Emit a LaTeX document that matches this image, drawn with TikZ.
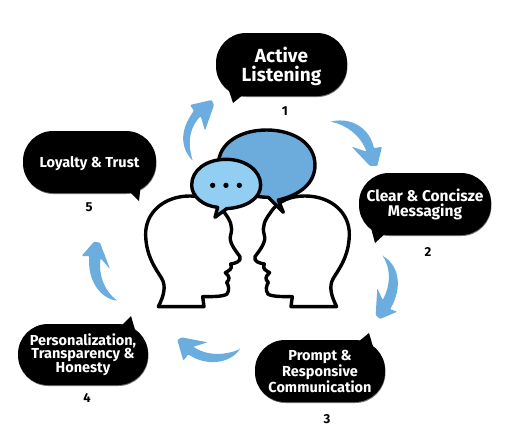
\documentclass[tikz,border=0pt]{standalone}
\usepackage{fontspec}
\setmainfont{Fira Sans}
\usetikzlibrary{shadows}
\definecolor{arrowblue}{HTML}{6BADDF}
\definecolor{bigblue}{HTML}{6BACDD}
\definecolor{smallblue}{HTML}{92CDF2}
\tikzset{
  bubblebox/.style={fill=black,rounded corners=30pt,inner sep=0pt,general shadow={fill=black!55,shadow xshift=0.4pt,shadow yshift=-1pt}},
  bubbletext/.style={inner sep=0pt,align=center,text=white,font=\bfseries\fontsize{14.5}{13.6}\selectfont},
  bubbletail/.style={fill=black},
  numlabel/.style={font=\bfseries\fontsize{13}{15}\selectfont,text=black,inner sep=0pt},
  curvearrow/.style={fill=arrowblue,rounded corners=1pt},
  headline/.style={draw=black,fill=white,line width=3.4pt,line join=round},
  speech/.style={draw=black,line width=3.4pt,line join=round},
  zoomA/.style={shift={(130,120)},x=0.3333pt,y=-0.3333pt},
  zoomB/.style={shift={(170,20)},x=0.3333pt,y=-0.3333pt},
  zoomC/.style={shift={(340,150)},x=0.3333pt,y=-0.3333pt},
  zoomD/.style={shift={(170,320)},x=0.3333pt,y=-0.3333pt},
  zoomE/.style={shift={(0,230)},x=0.3333pt,y=-0.3333pt},
}
\newcommand{\headoutline}{(85,560) -- (222,560) -- (218,530)
  .. controls (250,530) and (280,530) .. (291,522)
  .. controls (300,510) and (295,495) .. (290,487)
  .. controls (300,478) and (300,470) .. (286,458)
  .. controls (295,452) and (310,448) .. (302,432)
  .. controls (315,430) and (335,425) .. (330,410)
  .. controls (315,390) and (295,365) .. (302,345)
  .. controls (310,320) and (300,300) .. (285,280)
  .. controls (260,240) and (220,228) .. (180,228)
  .. controls (100,228) and (45,280) .. (47,345)
  .. controls (48,410) and (80,450) .. (95,475)
  .. controls (110,500) and (100,530) .. (85,560) -- cycle}
\begin{document}
\begin{tikzpicture}[x=1pt,y=-1pt]
\useasboundingbox (0,0) rectangle (512,440);
\fill[white] (0,0) rectangle (512,440);
% heads
\begin{scope}[zoomA]
  \draw[headline] \headoutline;
  \begin{scope}[shift={(705,0)},xscale=-1]
    \draw[headline] \headoutline;
  \end{scope}
  \draw[speech,fill=bigblue] (415,232) -- (460,277) -- (445,240)
    .. controls (510,225) and (555,190) .. (555,135)
    .. controls (555,70) and (490,30) .. (410,30)
    .. controls (330,30) and (265,70) .. (265,135)
    .. controls (265,185) and (340,232) .. (415,232) -- cycle;
  \draw[speech,fill=smallblue] (263,262) -- (255,292) -- (290,266)
    .. controls (350,262) and (392,235) .. (392,195)
    .. controls (392,150) and (345,118) .. (288,118)
    .. controls (230,118) and (185,150) .. (185,195)
    .. controls (185,230) and (220,258) .. (263,262) -- cycle;
  \fill[black] (248,196) circle[radius=8] (288,196) circle[radius=8] (328,196) circle[radius=8];
\end{scope}
% bubbles
\node[bubblebox,minimum width=131pt,minimum height=63pt] (b1) at (281.5,64.5) {};
\node[bubblebox,minimum width=132pt,minimum height=62pt] (b2) at (425,204) {};
\node[bubblebox,minimum width=130pt,minimum height=62pt] (b3) at (320,371) {};
\node[bubblebox,minimum width=130pt,minimum height=61pt] (b4) at (83,354.5) {};
\node[bubblebox,minimum width=133pt,minimum height=62pt] (b5) at (89.5,162) {};
\fill[bubbletail] (228,88) -- (233,103) -- (244,94) -- cycle;
\fill[bubbletail] (371,228) -- (375,243) -- (387,232) -- cycle;
\fill[bubbletail] (358,342) -- (369,333) -- (374,350) -- cycle;
\fill[bubbletail] (121,326) -- (131,316) -- (136,333) -- cycle;
\fill[bubbletail] (128,190) -- (139,201) -- (141,183) -- cycle;
% bubble texts
\node[bubbletext,font=\bfseries\fontsize{19}{19}\selectfont] (t1) at ([yshift=-1.5pt]b1.center) {Active\\Listening};
\node[bubbletext,font=\bfseries\fontsize{15.5}{15.4}\selectfont] (t2) at ([yshift=-0.5pt]b2.center) {Clear \& Concisze\\Messaging};
\node[bubbletext] (t3) at (b3.center) {Prompt \&\\Responsive\\Communication};
\node[bubbletext] (t4) at (b4.center) {Personalization,\\Transparency \&\\Honesty};
\node[bubbletext] (t5) at ([yshift=-1.5pt]b5.center) {Loyalty \& Trust};
% numbers
\node[numlabel] (n1) at (285,111) {1};
\node[numlabel] (n2) at (428,252) {2};
\node[numlabel] (n3) at (327,419) {3};
\node[numlabel] (n4) at (87,398) {4};
\node[numlabel] (n5) at (89,207) {5};
% arrows
\begin{scope}[zoomB]
  \fill[curvearrow] (68,422) .. controls (30,380) and (30,330) .. (72,272) -- (60,255) -- (125,240) -- (132,255) -- (105,332) -- (92,288) .. controls (62,320) and (50,360) .. (68,422) -- cycle;
  \fill[curvearrow] (482,305) .. controls (550,290) and (600,330) .. (612,385) -- (636,380) -- (622,438) -- (600,438) -- (545,380) -- (590,395) .. controls (570,345) and (530,315) .. (482,305) -- cycle;
\end{scope}
\begin{scope}[zoomC]
  \fill[curvearrow] (128,318) .. controls (175,345) and (190,410) .. (150,478) -- (172,485) -- (120,507) -- (107,495) -- (112,415) -- (128,450) .. controls (150,410) and (155,360) .. (128,318) -- cycle;
\end{scope}
\begin{scope}[zoomD]
  \fill[curvearrow] (210,87) .. controls (170,105) and (115,110) .. (70,80) -- (113,67) -- (35,52) -- (22,60) -- (40,122) -- (55,103) .. controls (110,140) and (180,130) .. (210,87) -- cycle;
\end{scope}
\begin{scope}[zoomE]
  \fill[curvearrow] (352,212) .. controls (300,205) and (262,150) .. (268,78) -- (245,78) -- (282,35) -- (300,38) -- (330,117) -- (302,85) .. controls (295,130) and (310,180) .. (352,212) -- cycle;
\end{scope}
\end{tikzpicture}
\end{document}
